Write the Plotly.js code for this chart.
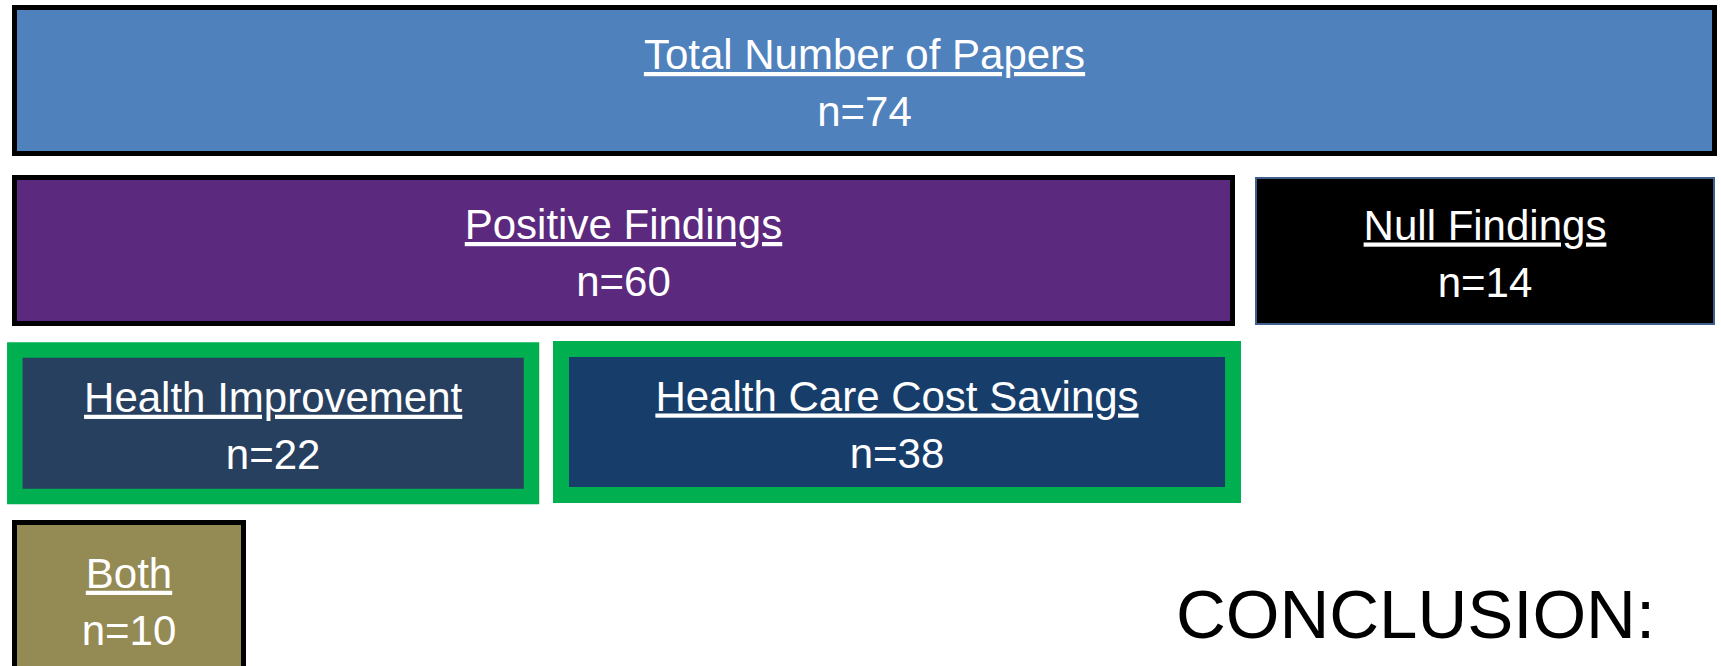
<!DOCTYPE html>
<html>
<head>
<meta charset="utf-8">
<script src="https://cdn.plot.ly/plotly-3.0.1.min.js"></script>
<style>
  html, body { margin: 0; padding: 0; background: #ffffff; }
  #chart { width: 1721px; height: 666px; }
</style>
</head>
<body>
<div id="chart"></div>
<script>
// ---- data ----
const boxLabels = ['Total Number of Papers', 'Positive Findings', 'Null Findings',
                   'Health Improvement', 'Health Care Cost Savings', 'Both'];
const boxCounts = [74, 60, 14, 22, 38, 10];
const conclusionText = 'CONCLUSION:';

// ---- layout geometry (stroke-centre edges, in page pixels) ----
const boxLeft   = [14.5, 14.5, 1256, 14.8, 561, 14.5];
const boxRight  = [1714.5, 1232.5, 1714, 531.5, 1233, 243.5];
const boxTop    = [7.5, 177.5, 178, 350, 349, 522.5];
const boxBottom = [153.5, 323.5, 324, 496.5, 495, 676];

// ---- styles ----
const boxFill      = ['#4f81bd', '#5b297d', '#000000', '#274060', '#173e6b', '#948a54'];
const boxLineColor = ['#000000', '#000000', '#3f608d', '#00b050', '#00b050', '#000000'];
const boxLineWidth = [5, 5, 2, 15.5, 16, 5];

const W = 1721, H = 666;
const FONT = '"Liberation Sans", Arial, sans-serif';
const FS = 42;

const yc = boxTop.map((t, i) => (t + boxBottom[i]) / 2);
const xc = boxLeft.map((l, i) => (l + boxRight[i]) / 2);

const boxes = {
  type: 'bar',
  orientation: 'h',
  y: yc,
  base: boxLeft,
  x: boxRight.map((r, i) => r - boxLeft[i]),
  width: boxBottom.map((b, i) => b - boxTop[i]),
  textposition: 'none',
  hoverinfo: 'skip',
  marker: {
    color: boxFill,
    line: { color: boxLineColor, width: boxLineWidth }
  }
};

const labelText = {
  type: 'scatter', mode: 'text',
  x: xc, y: yc.map(v => v - 22),
  text: boxLabels.map(s => '<u>' + s + '</u>'),
  textposition: 'middle center',
  textfont: { family: FONT, size: FS, color: '#ffffff' },
  hoverinfo: 'skip', cliponaxis: false
};

const countText = {
  type: 'scatter', mode: 'text',
  x: xc, y: yc.map(v => v + 35),
  text: boxCounts.map(n => 'n=' + n),
  textposition: 'middle center',
  textfont: { family: FONT, size: FS, color: '#ffffff' },
  hoverinfo: 'skip', cliponaxis: false
};

const conclusion = {
  type: 'scatter', mode: 'text',
  x: [1415.5], y: [620.75],
  text: [conclusionText],
  textposition: 'middle center',
  textfont: { family: FONT, size: 69, color: '#000000' },
  hoverinfo: 'skip', cliponaxis: false
};

const layout = {
  width: W, height: H,
  margin: { l: 0, r: 0, t: 0, b: 0, pad: 0 },
  paper_bgcolor: '#ffffff', plot_bgcolor: '#ffffff',
  showlegend: false,
  barmode: 'overlay',
  xaxis: { range: [0, W], visible: false, fixedrange: true },
  yaxis: { range: [H, 0], visible: false, fixedrange: true }
};

Plotly.newPlot('chart', [boxes, labelText, countText, conclusion], layout,
  { staticPlot: true, displayModeBar: false });
</script>
</body>
</html>
